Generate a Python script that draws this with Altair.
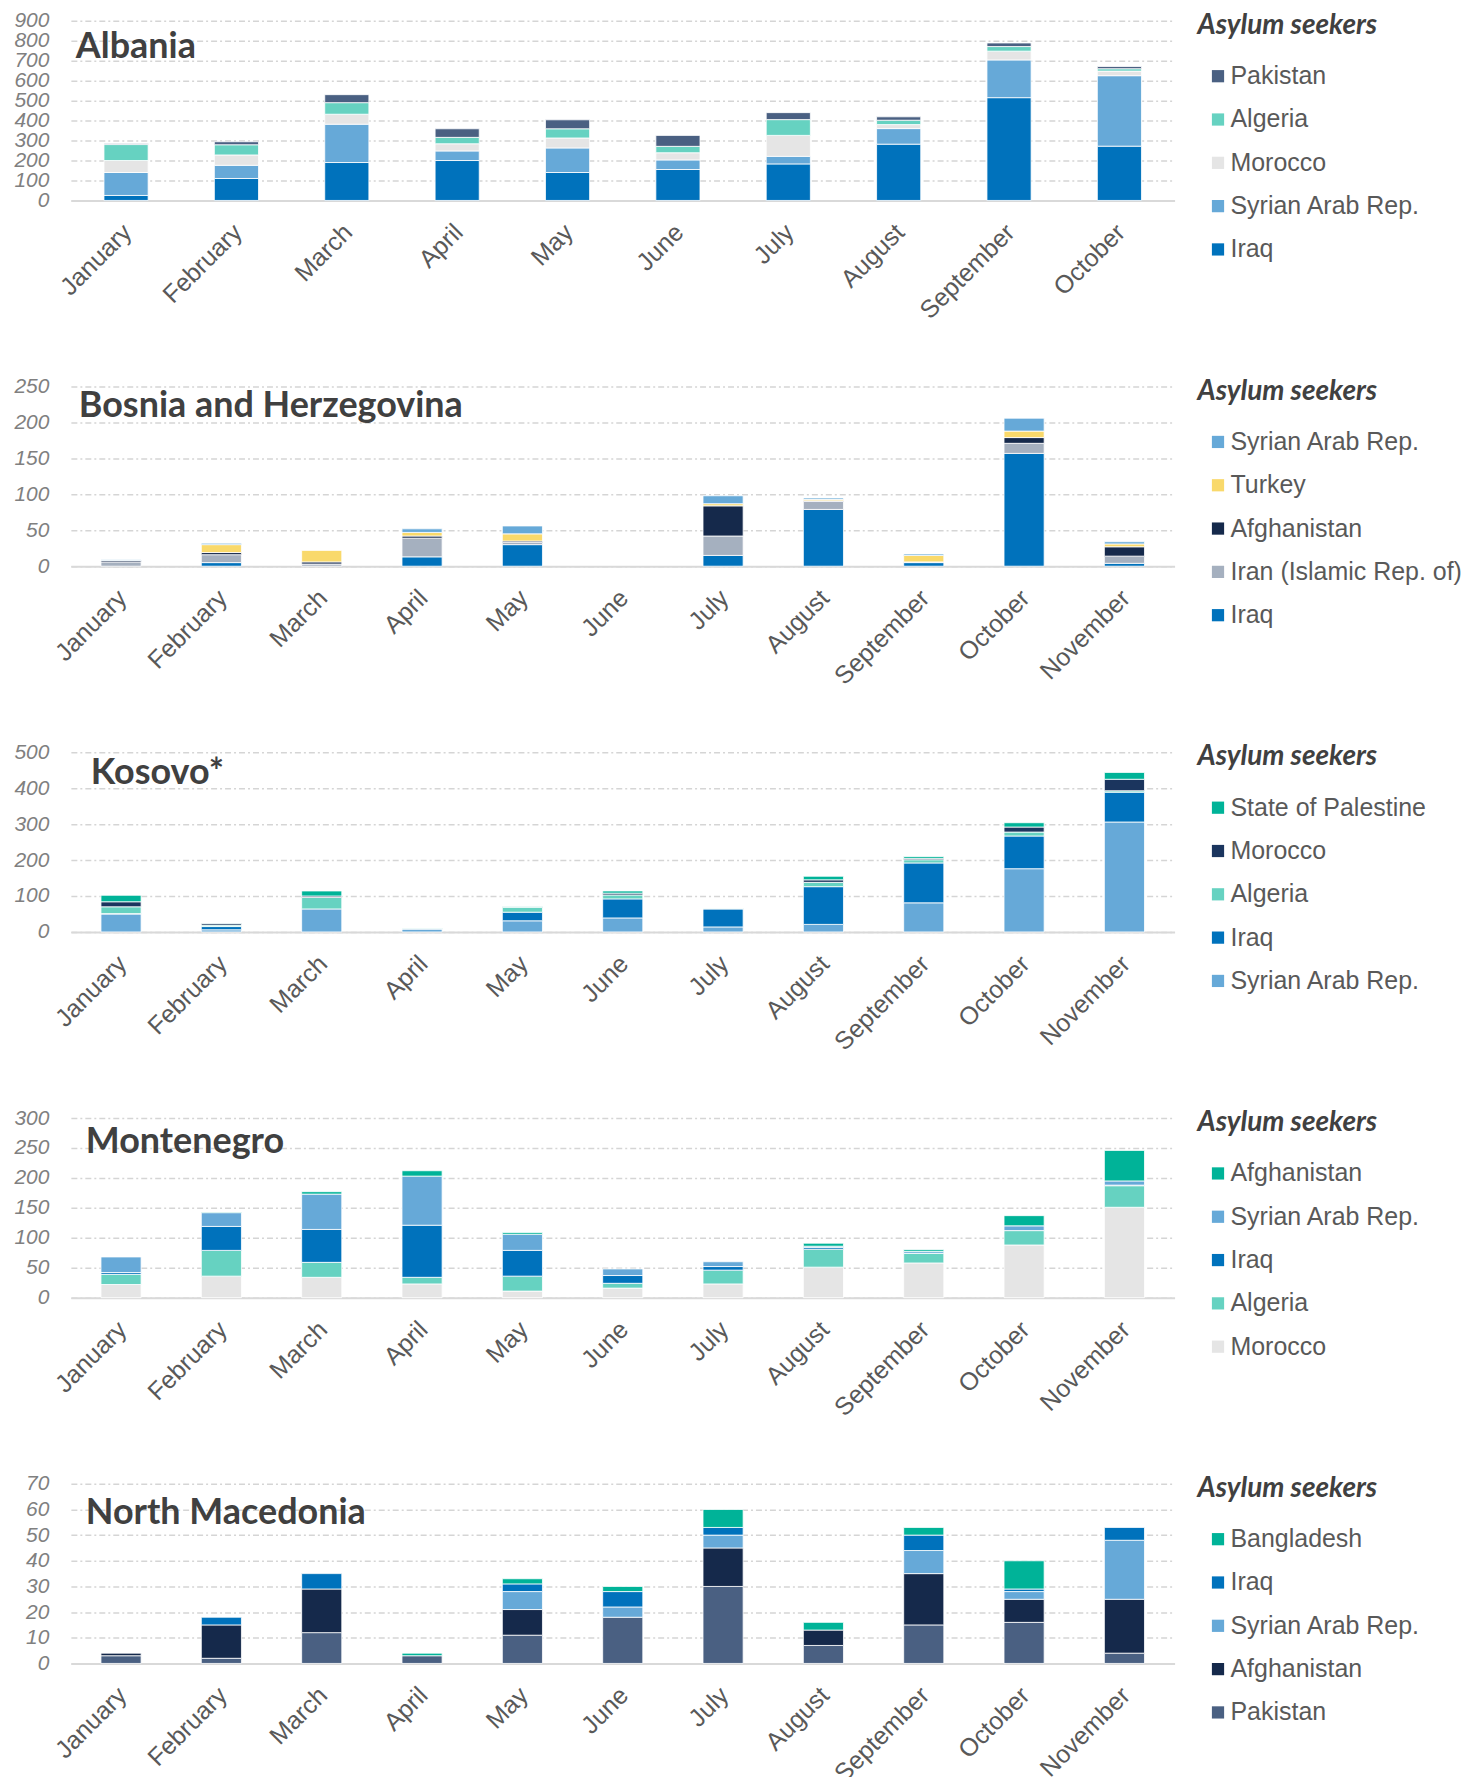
import altair as alt
import pandas as pd

# ---------------- data ----------------
months_10 = ["January", "February", "March", "April", "May", "June", "July",
             "August", "September", "October"]
months_11 = months_10 + ["November"]

# Albania (stack order bottom -> top)
alb_series = ["Iraq", "Syrian Arab Rep.", "Morocco", "Algeria", "Pakistan"]
alb_iraq = [25, 110, 190, 200, 140, 155, 183, 282, 515, 272]
alb_syria = [115, 66, 192, 48, 123, 48, 38, 78, 189, 353]
alb_morocco = [60, 52, 50, 36, 50, 36, 105, 20, 44, 23]
alb_algeria = [80, 51, 58, 32, 46, 32, 79, 22, 23, 12]
alb_pakistan = [5, 15, 40, 43, 45, 55, 35, 17, 18, 11]

# Bosnia and Herzegovina
bih_series = ["Iraq", "Iran (Islamic Rep. of)", "Afghanistan", "Turkey", "Syrian Arab Rep."]
bih_iraq = [0, 5, 0, 13, 30, 0, 15, 79, 5, 157, 4]
bih_iran = [6, 11, 3, 26, 3, 0, 27, 11, 1, 14, 10]
bih_afgh = [2, 3, 3, 3, 2, 0, 42, 1, 0, 8, 13]
bih_turkey = [0, 11, 16, 5, 10, 0, 3, 2, 9, 9, 4]
bih_syria = [1, 2, 0, 5, 11, 0, 11, 2, 2, 18, 3]

# Kosovo*
kos_series = ["Syrian Arab Rep.", "Iraq", "Algeria", "Morocco", "State of Palestine"]
kos_syria = [50, 6, 64, 8, 31, 39, 14, 21, 81, 176, 306]
kos_iraq = [1, 9, 0, 1, 24, 53, 50, 105, 111, 91, 83]
kos_algeria = [19, 4, 32, 0, 13, 11, 1, 12, 9, 11, 4]
kos_morocco = [14, 5, 4, 0, 1, 5, 0, 7, 4, 14, 32]
kos_palestine = [18, 1, 14, 1, 1, 6, 1, 10, 5, 12, 19]

# Montenegro
mne_series = ["Morocco", "Algeria", "Iraq", "Syrian Arab Rep.", "Afghanistan"]
mne_morocco = [22, 36, 34, 23, 11, 16, 23, 51, 58, 88, 151]
mne_algeria = [17, 43, 25, 11, 25, 8, 23, 30, 16, 24, 36]
mne_iraq = [3, 40, 55, 87, 43, 13, 6, 3, 0, 0, 1]
mne_syria = [26, 23, 59, 82, 27, 11, 8, 2, 3, 8, 7]
mne_afgh = [0, 1, 4, 9, 3, 0, 0, 5, 3, 17, 51]

# North Macedonia
mkd_series = ["Pakistan", "Afghanistan", "Syrian Arab Rep.", "Iraq", "Bangladesh"]
mkd_pakistan = [3, 2, 12, 3, 11, 18, 30, 7, 15, 16, 4]
mkd_afgh = [1, 13, 17, 0, 10, 0, 15, 6, 20, 9, 21]
mkd_syria = [0, 0, 0, 0, 7, 4, 5, 0, 9, 3, 23]
mkd_iraq = [0, 3, 6, 0, 3, 6, 3, 0, 6, 1, 5]
mkd_bangladesh = [0, 0, 0, 1, 2, 2, 7, 3, 3, 11, 0]

# colours
C_PAK = "#4A6082"
C_ALG = "#66D2C1"
C_MOR = "#E5E5E5"
C_SYR = "#66A9D8"
C_IRQ = "#0072BC"
C_TUR = "#F9D96B"
C_AFG = "#15294B"
C_IRN = "#A5B0BF"
C_TEAL = "#00B398"
C_NAVY = "#1B355E"


def make_panel(name, months, series, values, colors, ymax, ystep, tx, ty):
    rows = []
    for rank, (s, vals) in enumerate(zip(series, values)):
        for m, v in zip(months, vals):
            if v > 0:
                rows.append({"month": m, "series": s, "value": v, "rank": rank})
    df = pd.DataFrame(rows)
    legend_order = list(reversed(series))
    legend_colors = list(reversed(colors))

    bars = alt.Chart(df).mark_bar(stroke="white", strokeWidth=0.8).encode(
        x=alt.X("month:N",
                scale=alt.Scale(domain=months, paddingInner=0.6, paddingOuter=0.3),
                axis=alt.Axis(title=None, labelAngle=-45, labelFontSize=25,
                              labelFont="Liberation Sans", labelColor="#595959",
                              ticks=False, domainColor="#d9d9d9", domainWidth=2,
                              labelPadding=19, labelOffset=-7, grid=False,
                              labelOverlap=False)),
        y=alt.Y("value:Q", stack="zero",
                scale=alt.Scale(domain=[0, ymax], nice=False),
                axis=alt.Axis(title=None, values=list(range(0, ymax + 1, ystep)),
                              labelFont="Liberation Sans", labelFontStyle="italic",
                              labelFontSize=21, labelColor="#808080", labelPadding=22,
                              ticks=False, domain=False, grid=True,
                              gridColor="#d5d5d5", gridDash=[6, 3, 2, 3],
                              gridWidth=1.5, minExtent=57, labelOverlap=False)),
        color=alt.Color("series:N",
                        scale=alt.Scale(domain=legend_order, range=legend_colors),
                        legend=alt.Legend(title="Asylum seekers", orient="none",
                                          legendX=1129, legendY=-9,
                                          symbolType="square", symbolSize=150,
                                          symbolStrokeWidth=0, symbolOffset=8,
                                          labelOffset=0, labelFont="Liberation Sans",
                                          labelFontSize=25, labelColor="#595959",
                                          titleFont="Lato", titleFontSize=28,
                                          titleFontStyle="italic", titleFontWeight="bold",
                                          titleColor="#404040", titlePadding=24,
                                          titleLimit=400, rowPadding=17.4, padding=0,
                                          labelLimit=400)),
        order=alt.Order("rank:Q", sort="ascending"),
    )
    title = alt.Chart(pd.DataFrame({"t": [name]})).mark_text(
        align="left", baseline="alphabetic", font="Lato", fontWeight="bold",
        fontSize=36, color="#404040"
    ).encode(text="t:N", x=alt.value(tx), y=alt.value(ty))
    return alt.layer(bars, title).properties(width=1106, height=180)


panels = [
    make_panel("Albania", months_10, alb_series,
               [alb_iraq, alb_syria, alb_morocco, alb_algeria, alb_pakistan],
               [C_IRQ, C_SYR, C_MOR, C_ALG, C_PAK], 900, 100, 5, 37),
    make_panel("Bosnia and Herzegovina", months_11, bih_series,
               [bih_iraq, bih_iran, bih_afgh, bih_turkey, bih_syria],
               [C_IRQ, C_IRN, C_AFG, C_TUR, C_SYR], 250, 50, 8, 31),
    make_panel("Kosovo*", months_11, kos_series,
               [kos_syria, kos_iraq, kos_algeria, kos_morocco, kos_palestine],
               [C_SYR, C_IRQ, C_ALG, C_NAVY, C_TEAL], 500, 100, 20, 32),
    make_panel("Montenegro", months_11, mne_series,
               [mne_morocco, mne_algeria, mne_iraq, mne_syria, mne_afgh],
               [C_MOR, C_ALG, C_IRQ, C_SYR, C_TEAL], 300, 50, 15, 35),
    make_panel("North Macedonia", months_11, mkd_series,
               [mkd_pakistan, mkd_afgh, mkd_syria, mkd_iraq, mkd_bangladesh],
               [C_PAK, C_AFG, C_SYR, C_IRQ, C_TEAL], 70, 10, 15, 40),
]

chart = alt.vconcat(*panels, spacing=51.5).resolve_scale(
    color="independent", x="independent", y="independent"
).properties(
    padding={"left": 5, "top": 0, "right": 0, "bottom": 5}
).configure_view(stroke=None)

chart.save("out.html", embed_options={"renderer": "svg", "actions": False})
